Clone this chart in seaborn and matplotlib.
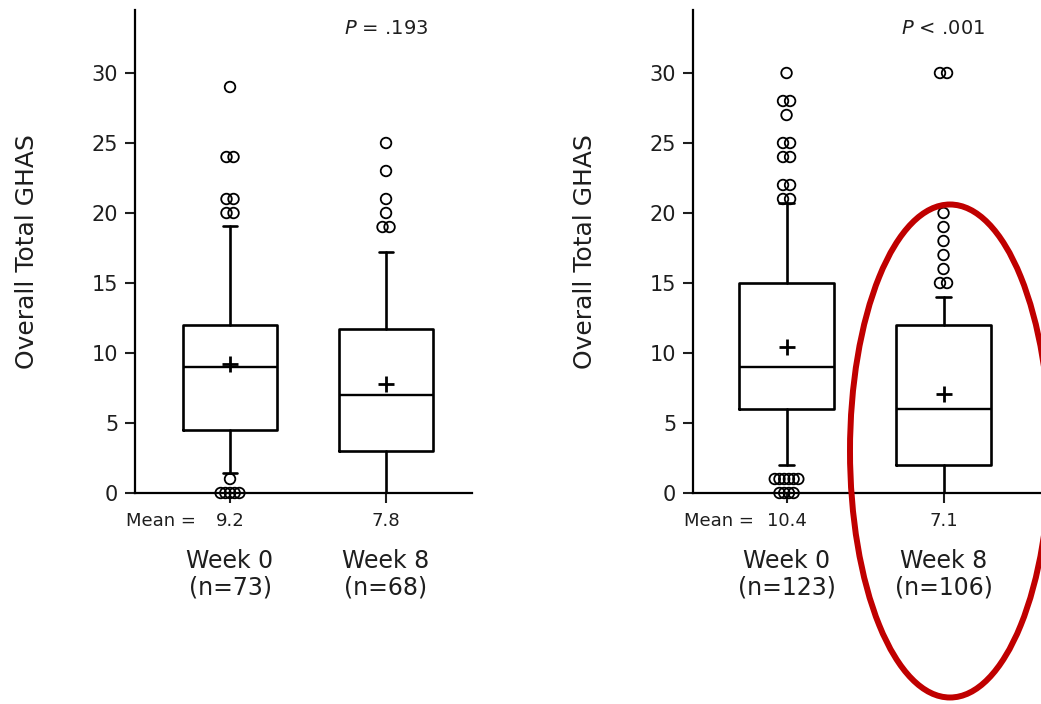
import matplotlib
matplotlib.use("Agg")
import matplotlib.pyplot as plt
from matplotlib.patches import Ellipse
import numpy as np
import pandas as pd
import seaborn as sns

# ---- data -------------------------------------------------------------
groups = ["Week 0", "Week 8"]

left_n = [73, 68]
left_mean = [9.2, 7.8]
left_q1 = [4.5, 3.0]
left_med = [9.0, 7.0]
left_q3 = [12.0, 11.75]
left_whislo = [1.4, 0.0]
left_whishi = [19.1, 17.2]
left_fliers_w0 = [0, 0, 0, 0, 0, 1, 20, 20, 21, 21, 24, 24, 29]
left_fliers_w8 = [19, 19, 20, 21, 23, 25]
left_p = r"$P$ = .193"

right_n = [123, 106]
right_mean = [10.4, 7.1]
right_q1 = [6.0, 2.0]
right_med = [9.0, 6.0]
right_q3 = [15.0, 12.0]
right_whislo = [2.0, 0.0]
right_whishi = [20.7, 14.0]
right_fliers_w0 = [0, 0, 0, 0, 1, 1, 1, 1, 1, 1, 21, 21, 22, 22, 24, 24,
                   25, 25, 27, 28, 28, 30]
right_fliers_w8 = [15, 15, 16, 17, 18, 19, 20, 30, 30]
right_p = r"$P$ < .001"

y_ticks = [0, 5, 10, 15, 20, 25, 30]

# ---- style ------------------------------------------------------------
sns.set_theme(style="ticks")
INK = "#1e1e1e"
plt.rcParams["font.family"] = ["DejaVu Sans"]
plt.rcParams["mathtext.fontset"] = "dejavusans"
plt.rcParams["text.color"] = INK
plt.rcParams["axes.labelcolor"] = INK
plt.rcParams["xtick.color"] = INK
plt.rcParams["ytick.color"] = INK

W, H = 1041, 704
fig = plt.figure(figsize=(W / 100, H / 100), dpi=100)
fig.patch.set_facecolor("white")

LW = 1.9


def spread(values):
    """Side-by-side offsets for tied outliers."""
    vals = np.asarray(values, dtype=float)
    offs = np.zeros_like(vals)
    for v in np.unique(vals):
        idx = np.where(vals == v)[0]
        k = len(idx)
        step = 0.045 if k <= 2 else 0.03
        offs[idx] = (np.arange(k) - (k - 1) / 2) * step
    return offs


def panel(rect, xlim, n, mean, q1, med, q3, wlo, whi, fliers, ptext):
    ax = fig.add_axes(rect)
    ax.set_facecolor("white")
    stats = []
    for i in range(len(groups)):
        stats.append(dict(med=med[i], q1=q1[i], q3=q3[i],
                          whislo=wlo[i], whishi=whi[i], mean=mean[i],
                          fliers=[]))
    pos = np.arange(len(groups))
    ax.bxp(stats, positions=pos, widths=0.6, capwidths=0.09,
           showmeans=True, showfliers=False, manage_ticks=False,
           boxprops=dict(color="black", lw=LW),
           whiskerprops=dict(color="black", lw=LW),
           capprops=dict(color="black", lw=LW),
           medianprops=dict(color="black", lw=LW * 0.9),
           meanprops=dict(marker="+", markersize=12, markeredgecolor="black",
                          markeredgewidth=2.0, linestyle="none"),
           zorder=2)

    # outliers, tied values placed side by side
    for i, fl in enumerate(fliers):
        xs = pos[i] + spread(fl)
        ax.scatter(xs, fl, s=58, facecolors="none", edgecolors="black",
                   linewidths=1.3, zorder=3, clip_on=False)

    ax.set_xlim(*xlim)
    ax.set_ylim(0, 34.5)
    ax.set_yticks(y_ticks)
    ax.set_yticklabels([str(t) for t in y_ticks])
    ax.set_xticks(pos)
    ax.set_xticklabels([])
    ax.tick_params(axis="y", length=7, width=1.5, pad=5, labelsize=15,
                   direction="out")
    ax.tick_params(axis="x", length=7, width=1.5, direction="out")
    for s in ["top", "right"]:
        ax.spines[s].set_visible(False)
    for s in ["left", "bottom"]:
        ax.spines[s].set_linewidth(1.6)
        ax.spines[s].set_color("black")
    ax.set_ylabel("Overall Total GHAS", fontsize=18, labelpad=38)

    tr = ax.get_xaxis_transform()
    ax.text(xlim[0] - 0.055, -0.058, "Mean =", transform=tr, ha="left",
            va="center", fontsize=13)
    for i in range(len(groups)):
        ax.text(pos[i], -0.058, f"{mean[i]:.1f}", transform=tr,
                ha="center", va="center", fontsize=13)
        ax.text(pos[i], -0.141, groups[i], transform=tr, ha="center",
                va="center", fontsize=17)
        ax.text(pos[i], -0.195, f"(n={n[i]})", transform=tr, ha="center",
                va="center", fontsize=17)
    ax.text(pos[1], 33.2, ptext, ha="center", va="center", fontsize=14)
    return ax


bottom = (H - 493) / H
height = (493 - 10) / H

ax_l = panel([135 / W, bottom, 337 / W, height], (-0.609, 1.551),
             left_n, left_mean, left_q1, left_med, left_q3,
             left_whislo, left_whishi, [left_fliers_w0, left_fliers_w8],
             left_p)
ax_r = panel([693 / W, bottom, (W - 693) / W, height], (-0.596, 1.621),
             right_n, right_mean, right_q1, right_med, right_q3,
             right_whislo, right_whishi, [right_fliers_w0, right_fliers_w8],
             right_p)

# red highlight around the week-8 group of the right panel
ring = Ellipse((950 / W, 1 - 451 / H), 200 / W, 493 / H,
               transform=fig.transFigure, fill=False, edgecolor="#c00000",
               linewidth=4.3, zorder=10)
fig.add_artist(ring)

fig.savefig("out.png", dpi=100, facecolor="white")
